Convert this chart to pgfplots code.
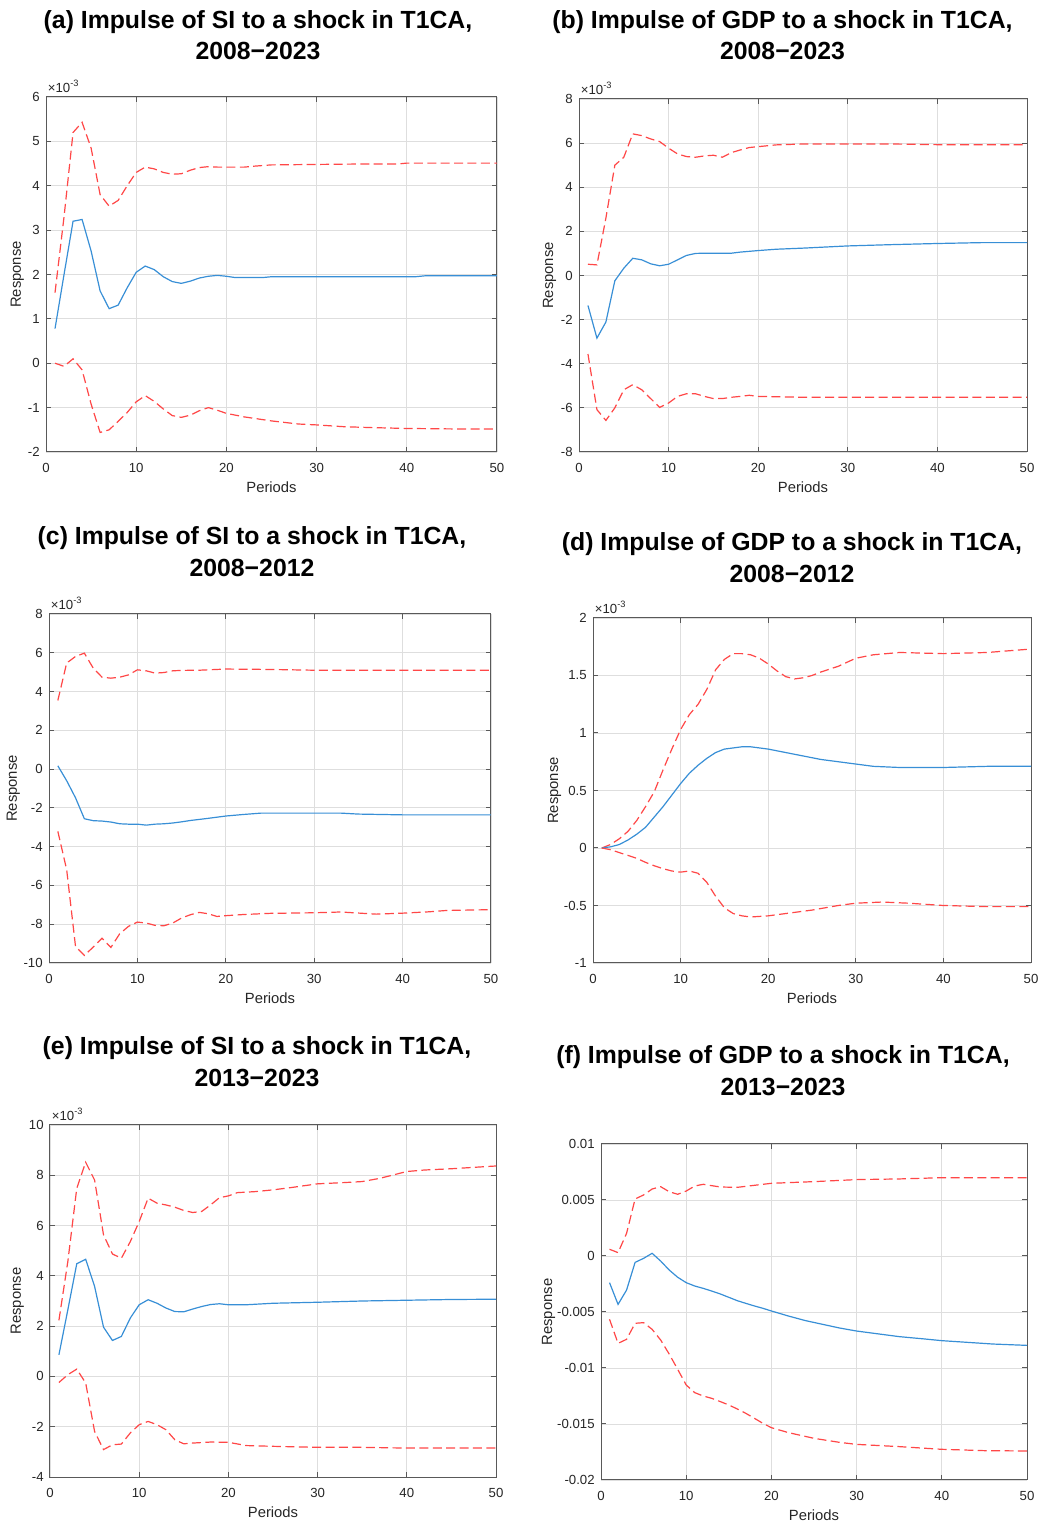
\documentclass[border=0pt]{standalone}
\usepackage{fontspec}
\setmainfont{Liberation Sans}
\usepackage{pgfplots}
\pgfplotsset{compat=1.18}

\definecolor{irfblue}{rgb}{0.22,0.56,0.84}
\definecolor{bandred}{rgb}{1,0.28,0.28}
\definecolor{axgray}{gray}{0.35}
\definecolor{txtgray}{gray}{0.15}

\pgfplotsset{
  irf/.style={
    scale only axis,
    anchor=south west,
    xmin=0, xmax=50, xtick={0,10,20,30,40,50},
    scaled y ticks=false, scaled x ticks=false,
    grid=major,
    major grid style={draw=black!13, line width=0.4pt},
    axis line style={draw=axgray, line width=0.5pt},
    every tick/.style={draw=axgray, line width=0.5pt},
    tick align=inside, major tick length=2.5pt,
    ticklabel style={font=\fontsize{6.6}{8}\selectfont, text=txtgray},
    /pgf/number format/assume math mode=true,
    xticklabel style={anchor=north, inner sep=0pt, yshift=-5.5pt},
    yticklabel style={anchor=east, inner sep=0pt, xshift=-3pt},
    xlabel={Periods}, ylabel={Response},
    every axis x label/.style={at={(axis description cs:0.5,0)}, anchor=base,
      yshift=-20.25pt, font=\fontsize{7.4}{9}\selectfont, text=txtgray},
    every axis y label/.style={at={([xshift=-#1]axis description cs:0,0.5)},
      rotate=90, anchor=base, font=\fontsize{7.4}{9}\selectfont, text=txtgray},
    every axis title/.style={at={(rel axis cs:0,1)}, anchor=south west,
      inner sep=0pt, xshift=0.75pt, yshift=2pt,
      font=\fontsize{6.6}{8}\selectfont, text=txtgray},
  },
  milli/.style={title={×10\textsuperscript{-3}}},
  mid/.style={irfblue, line width=0.6pt},
  band/.style={bandred, line width=0.6pt, dash pattern=on 4.5pt off 2.2pt},
}

\tikzset{paneltitle/.style={anchor=base, font=\fontsize{12.4}{15}\selectfont\bfseries}}

\begin{document}
\begin{tikzpicture}
\useasboundingbox (0,0) rectangle (520pt,762pt);

% ---------------- (a) SI, 2008-2023 ----------------
\node[paneltitle] at (129pt,747.65pt) {(a) Impulse of SI to a shock in T1CA,};
\node[paneltitle] at (129pt,732.15pt) {2008−2023};
\begin{axis}[irf=12.5pt, milli, at={(23pt,536pt)}, width=225.5pt, height=177.5pt,
  ymin=-0.002, ymax=0.006,
  ytick={-0.002,-0.001,0,0.001,0.002,0.003,0.004,0.005,0.006},
  yticklabels={-2,-1,0,1,2,3,4,5,6}]
\addplot[band] coordinates {(1,1.59e-3)(2,3.3e-3)(3,5.2e-3)(4,5.43e-3)(5,4.85e-3)(6,3.8e-3)(7,3.54e-3)(8,3.67e-3)(9,4.0e-3)(10,4.3e-3)(11,4.42e-3)(12,4.38e-3)(13,4.3e-3)(14,4.26e-3)(15,4.27e-3)(16,4.35e-3)(17,4.41e-3)(18,4.43e-3)(19,4.42e-3)(22,4.42e-3)(23,4.44e-3)(25,4.47e-3)(30,4.48e-3)(35,4.49e-3)(39,4.49e-3)(40,4.51e-3)(50,4.51e-3)};
\addplot[mid] coordinates {(1,0.78e-3)(2,2.0e-3)(3,3.2e-3)(4,3.24e-3)(5,2.53e-3)(6,1.63e-3)(7,1.23e-3)(8,1.31e-3)(9,1.7e-3)(10,2.05e-3)(11,2.19e-3)(12,2.11e-3)(13,1.95e-3)(14,1.84e-3)(15,1.8e-3)(16,1.85e-3)(17,1.92e-3)(18,1.96e-3)(19,1.98e-3)(20,1.96e-3)(21,1.93e-3)(24,1.93e-3)(25,1.95e-3)(30,1.95e-3)(35,1.95e-3)(41,1.95e-3)(42,1.97e-3)(50,1.97e-3)};
\addplot[band] coordinates {(1,0.0)(2,-0.07e-3)(3,0.1e-3)(4,-0.15e-3)(5,-0.92e-3)(6,-1.56e-3)(7,-1.5e-3)(8,-1.31e-3)(9,-1.11e-3)(10,-0.87e-3)(11,-0.73e-3)(12,-0.86e-3)(13,-1.03e-3)(14,-1.18e-3)(15,-1.22e-3)(16,-1.17e-3)(17,-1.07e-3)(18,-1.0e-3)(19,-1.06e-3)(20,-1.13e-3)(22,-1.21e-3)(25,-1.3e-3)(28,-1.37e-3)(30,-1.39e-3)(33,-1.43e-3)(36,-1.45e-3)(40,-1.47e-3)(45,-1.48e-3)(50,-1.48e-3)};
\end{axis}

% ---------------- (b) GDP, 2008-2023 ----------------
\node[paneltitle] at (391.25pt,747.65pt) {(b) Impulse of GDP to a shock in T1CA,};
\node[paneltitle] at (391.25pt,732.15pt) {2008−2023};
\begin{axis}[irf=13pt, milli, at={(289.5pt,536pt)}, width=224pt, height=176.5pt,
  ymin=-0.008, ymax=0.008,
  ytick={-0.008,-0.006,-0.004,-0.002,0,0.002,0.004,0.006,0.008},
  yticklabels={-8,-6,-4,-2,0,2,4,6,8}]
\addplot[band] coordinates {(1,0.51e-3)(2,0.48e-3)(3,2.6e-3)(4,5.0e-3)(5,5.36e-3)(6,6.42e-3)(7,6.34e-3)(8,6.19e-3)(9,6.07e-3)(10,5.77e-3)(11,5.51e-3)(12,5.39e-3)(13,5.36e-3)(14,5.42e-3)(15,5.45e-3)(16,5.36e-3)(17,5.57e-3)(18,5.69e-3)(19,5.8e-3)(20,5.84e-3)(22,5.92e-3)(25,5.96e-3)(35,5.96e-3)(40,5.93e-3)(50,5.93e-3)};
\addplot[mid] coordinates {(1,-1.36e-3)(2,-2.84e-3)(3,-2.11e-3)(4,-0.24e-3)(5,0.33e-3)(6,0.78e-3)(7,0.71e-3)(8,0.53e-3)(9,0.44e-3)(10,0.51e-3)(11,0.71e-3)(12,0.91e-3)(13,1.0e-3)(14,1.01e-3)(17,1.01e-3)(18,1.06e-3)(20,1.13e-3)(22,1.19e-3)(25,1.24e-3)(30,1.34e-3)(35,1.4e-3)(40,1.45e-3)(45,1.49e-3)(50,1.49e-3)};
\addplot[band] coordinates {(1,-3.56e-3)(2,-6.08e-3)(3,-6.57e-3)(4,-6.0e-3)(5,-5.18e-3)(6,-4.95e-3)(7,-5.18e-3)(8,-5.58e-3)(9,-5.98e-3)(10,-5.78e-3)(11,-5.48e-3)(12,-5.36e-3)(13,-5.36e-3)(14,-5.48e-3)(15,-5.58e-3)(16,-5.58e-3)(17,-5.52e-3)(18,-5.48e-3)(19,-5.43e-3)(20,-5.48e-3)(25,-5.52e-3)(50,-5.52e-3)};
\end{axis}

% ---------------- (c) SI, 2008-2012 ----------------
\node[paneltitle] at (126pt,489.5pt) {(c) Impulse of SI to a shock in T1CA,};
\node[paneltitle] at (126pt,473.75pt) {2008−2012};
\begin{axis}[irf=16pt, milli, at={(24.5pt,280.5pt)}, width=221pt, height=174.5pt,
  ymin=-0.01, ymax=0.008,
  ytick={-0.01,-0.008,-0.006,-0.004,-0.002,0,0.002,0.004,0.006,0.008},
  yticklabels={-10,-8,-6,-4,-2,0,2,4,6,8}]
\addplot[band] coordinates {(1,3.54e-3)(2,5.47e-3)(3,5.81e-3)(4,5.98e-3)(5,5.21e-3)(6,4.74e-3)(7,4.69e-3)(8,4.74e-3)(9,4.86e-3)(10,5.12e-3)(11,5.07e-3)(12,4.95e-3)(13,4.98e-3)(14,5.07e-3)(15,5.09e-3)(17,5.1e-3)(20,5.16e-3)(25,5.14e-3)(30,5.1e-3)(50,5.1e-3)};
\addplot[mid] coordinates {(1,0.17e-3)(2,-0.6e-3)(3,-1.48e-3)(4,-2.56e-3)(5,-2.66e-3)(6,-2.68e-3)(7,-2.73e-3)(8,-2.82e-3)(9,-2.84e-3)(10,-2.84e-3)(11,-2.89e-3)(12,-2.84e-3)(13,-2.82e-3)(14,-2.78e-3)(15,-2.72e-3)(16,-2.65e-3)(18,-2.54e-3)(20,-2.42e-3)(22,-2.34e-3)(24,-2.27e-3)(33,-2.27e-3)(35,-2.32e-3)(40,-2.36e-3)(50,-2.36e-3)};
\addplot[band] coordinates {(1,-3.21e-3)(2,-5.19e-3)(3,-9.15e-3)(4,-9.61e-3)(5,-9.18e-3)(6,-8.72e-3)(7,-9.2e-3)(8,-8.49e-3)(9,-8.11e-3)(10,-7.89e-3)(11,-7.94e-3)(12,-8.06e-3)(13,-8.08e-3)(14,-7.94e-3)(15,-7.68e-3)(16,-7.51e-3)(17,-7.39e-3)(18,-7.46e-3)(19,-7.6e-3)(20,-7.56e-3)(22,-7.5e-3)(25,-7.44e-3)(30,-7.41e-3)(33,-7.37e-3)(37,-7.48e-3)(40,-7.43e-3)(43,-7.36e-3)(45,-7.29e-3)(50,-7.25e-3)};
\end{axis}

% ---------------- (d) GDP, 2008-2012 ----------------
\node[paneltitle] at (396pt,486.5pt) {(d) Impulse of GDP to a shock in T1CA,};
\node[paneltitle] at (396pt,470.75pt) {2008−2012};
\begin{axis}[irf=17.5pt, milli, at={(296.5pt,280.5pt)}, width=219pt, height=172.5pt,
  ymin=-0.001, ymax=0.002,
  ytick={-0.001,-0.0005,0,0.0005,0.001,0.0015,0.002},
  yticklabels={-1,-0.5,0,0.5,1,1.5,2}]
\addplot[band] coordinates {(1,0)(2,0.03e-3)(3,0.08e-3)(4,0.145e-3)(5,0.24e-3)(6,0.36e-3)(7,0.49e-3)(8,0.68e-3)(9,0.86e-3)(10,1.03e-3)(11,1.16e-3)(12,1.25e-3)(13,1.38e-3)(14,1.55e-3)(15,1.64e-3)(16,1.69e-3)(17,1.69e-3)(18,1.68e-3)(19,1.65e-3)(20,1.6e-3)(21,1.54e-3)(22,1.49e-3)(23,1.47e-3)(24,1.48e-3)(25,1.5e-3)(26,1.53e-3)(28,1.58e-3)(30,1.65e-3)(32,1.68e-3)(35,1.7e-3)(40,1.69e-3)(45,1.7e-3)(50,1.73e-3)};
\addplot[mid] coordinates {(1,0)(2,0.01e-3)(3,0.03e-3)(4,0.07e-3)(5,0.12e-3)(6,0.18e-3)(7,0.27e-3)(8,0.36e-3)(9,0.46e-3)(10,0.56e-3)(11,0.65e-3)(12,0.72e-3)(13,0.78e-3)(14,0.83e-3)(15,0.86e-3)(16,0.87e-3)(17,0.88e-3)(18,0.88e-3)(19,0.87e-3)(20,0.86e-3)(22,0.83e-3)(24,0.8e-3)(26,0.77e-3)(28,0.75e-3)(30,0.73e-3)(32,0.71e-3)(35,0.7e-3)(40,0.7e-3)(45,0.71e-3)(50,0.71e-3)};
\addplot[band] coordinates {(1,0)(2,-0.015e-3)(3,-0.04e-3)(4,-0.065e-3)(5,-0.09e-3)(6,-0.125e-3)(7,-0.155e-3)(8,-0.18e-3)(9,-0.2e-3)(10,-0.21e-3)(11,-0.2e-3)(12,-0.22e-3)(13,-0.3e-3)(14,-0.42e-3)(15,-0.52e-3)(16,-0.57e-3)(17,-0.59e-3)(18,-0.6e-3)(20,-0.59e-3)(22,-0.57e-3)(25,-0.54e-3)(28,-0.5e-3)(30,-0.48e-3)(33,-0.47e-3)(36,-0.48e-3)(40,-0.5e-3)(45,-0.51e-3)(50,-0.51e-3)};
\end{axis}

% ---------------- (e) SI, 2013-2023 ----------------
\node[paneltitle] at (128.5pt,234.5pt) {(e) Impulse of SI to a shock in T1CA,};
\node[paneltitle] at (128.5pt,218.75pt) {2013−2023};
\begin{axis}[irf=14.5pt, milli, at={(25pt,23.5pt)}, width=223pt, height=176pt,
  ymin=-0.004, ymax=0.01,
  ytick={-0.004,-0.002,0,0.002,0.004,0.006,0.008,0.01},
  yticklabels={-4,-2,0,2,4,6,8,10}]
\addplot[band] coordinates {(1,2.23e-3)(2,4.57e-3)(3,7.48e-3)(4,8.52e-3)(5,7.81e-3)(6,5.63e-3)(7,4.87e-3)(8,4.7e-3)(9,5.36e-3)(10,6.16e-3)(11,7.09e-3)(12,6.89e-3)(13,6.82e-3)(14,6.73e-3)(15,6.6e-3)(16,6.52e-3)(17,6.56e-3)(18,6.82e-3)(19,7.11e-3)(20,7.18e-3)(21,7.31e-3)(23,7.35e-3)(25,7.42e-3)(27,7.51e-3)(30,7.66e-3)(33,7.71e-3)(35,7.75e-3)(37,7.88e-3)(40,8.15e-3)(42,8.21e-3)(45,8.26e-3)(50,8.37e-3)};
\addplot[mid] coordinates {(1,0.86e-3)(2,2.65e-3)(3,4.48e-3)(4,4.66e-3)(5,3.58e-3)(6,1.96e-3)(7,1.43e-3)(8,1.59e-3)(9,2.32e-3)(10,2.85e-3)(11,3.05e-3)(12,2.91e-3)(13,2.72e-3)(14,2.58e-3)(15,2.57e-3)(16,2.68e-3)(17,2.78e-3)(18,2.86e-3)(19,2.89e-3)(20,2.85e-3)(22,2.85e-3)(25,2.91e-3)(30,2.95e-3)(35,3.0e-3)(40,3.03e-3)(45,3.06e-3)(50,3.07e-3)};
\addplot[band] coordinates {(1,-0.24e-3)(2,0.07e-3)(3,0.29e-3)(4,-0.26e-3)(5,-2.19e-3)(6,-2.91e-3)(7,-2.72e-3)(8,-2.69e-3)(9,-2.25e-3)(10,-1.92e-3)(11,-1.79e-3)(12,-1.92e-3)(13,-2.12e-3)(14,-2.52e-3)(15,-2.68e-3)(16,-2.65e-3)(18,-2.61e-3)(20,-2.62e-3)(22,-2.75e-3)(25,-2.78e-3)(30,-2.82e-3)(35,-2.82e-3)(40,-2.85e-3)(50,-2.85e-3)};
\end{axis}

% ---------------- (f) GDP, 2013-2023 ----------------
\node[paneltitle] at (391.5pt,230pt) {(f) Impulse of GDP to a shock in T1CA,};
\node[paneltitle] at (391.5pt,214pt) {2013−2023};
\begin{axis}[irf=24.5pt, at={(300.5pt,22pt)}, width=213pt, height=168pt,
  ymin=-0.02, ymax=0.01,
  ytick={-0.02,-0.015,-0.01,-0.005,0,0.005,0.01},
  yticklabels={-0.02,-0.015,-0.01,-0.005,0,0.005,0.01}]
\addplot[band] coordinates {(1,0.6e-3)(2,0.3e-3)(3,2.02e-3)(4,5.09e-3)(5,5.45e-3)(6,5.98e-3)(7,6.19e-3)(8,5.74e-3)(9,5.51e-3)(10,5.8e-3)(11,6.25e-3)(12,6.4e-3)(13,6.28e-3)(14,6.16e-3)(16,6.13e-3)(18,6.31e-3)(20,6.49e-3)(22,6.55e-3)(25,6.64e-3)(30,6.82e-3)(35,6.88e-3)(40,6.99e-3)(50,6.99e-3)};
\addplot[mid] coordinates {(1,-2.38e-3)(2,-4.32e-3)(3,-3.04e-3)(4,-0.57e-3)(5,-0.21e-3)(6,0.24e-3)(7,-0.45e-3)(8,-1.25e-3)(9,-1.9e-3)(10,-2.38e-3)(11,-2.68e-3)(12,-2.89e-3)(13,-3.13e-3)(14,-3.39e-3)(15,-3.69e-3)(16,-3.99e-3)(17,-4.23e-3)(18,-4.46e-3)(19,-4.67e-3)(20,-4.91e-3)(22,-5.36e-3)(24,-5.77e-3)(26,-6.1e-3)(28,-6.43e-3)(30,-6.7e-3)(32,-6.9e-3)(35,-7.2e-3)(38,-7.41e-3)(40,-7.56e-3)(43,-7.71e-3)(46,-7.86e-3)(50,-7.98e-3)};
\addplot[band] coordinates {(1,-5.65e-3)(2,-7.8e-3)(3,-7.44e-3)(4,-6.01e-3)(5,-5.95e-3)(6,-6.55e-3)(7,-7.5e-3)(8,-8.75e-3)(9,-10.12e-3)(10,-11.52e-3)(11,-12.2e-3)(12,-12.5e-3)(13,-12.71e-3)(14,-13.0e-3)(15,-13.3e-3)(16,-13.66e-3)(17,-14.05e-3)(18,-14.49e-3)(19,-14.94e-3)(20,-15.33e-3)(22,-15.77e-3)(25,-16.28e-3)(28,-16.64e-3)(30,-16.82e-3)(35,-17.02e-3)(40,-17.26e-3)(45,-17.38e-3)(50,-17.41e-3)};
\end{axis}
\end{tikzpicture}
\end{document}
